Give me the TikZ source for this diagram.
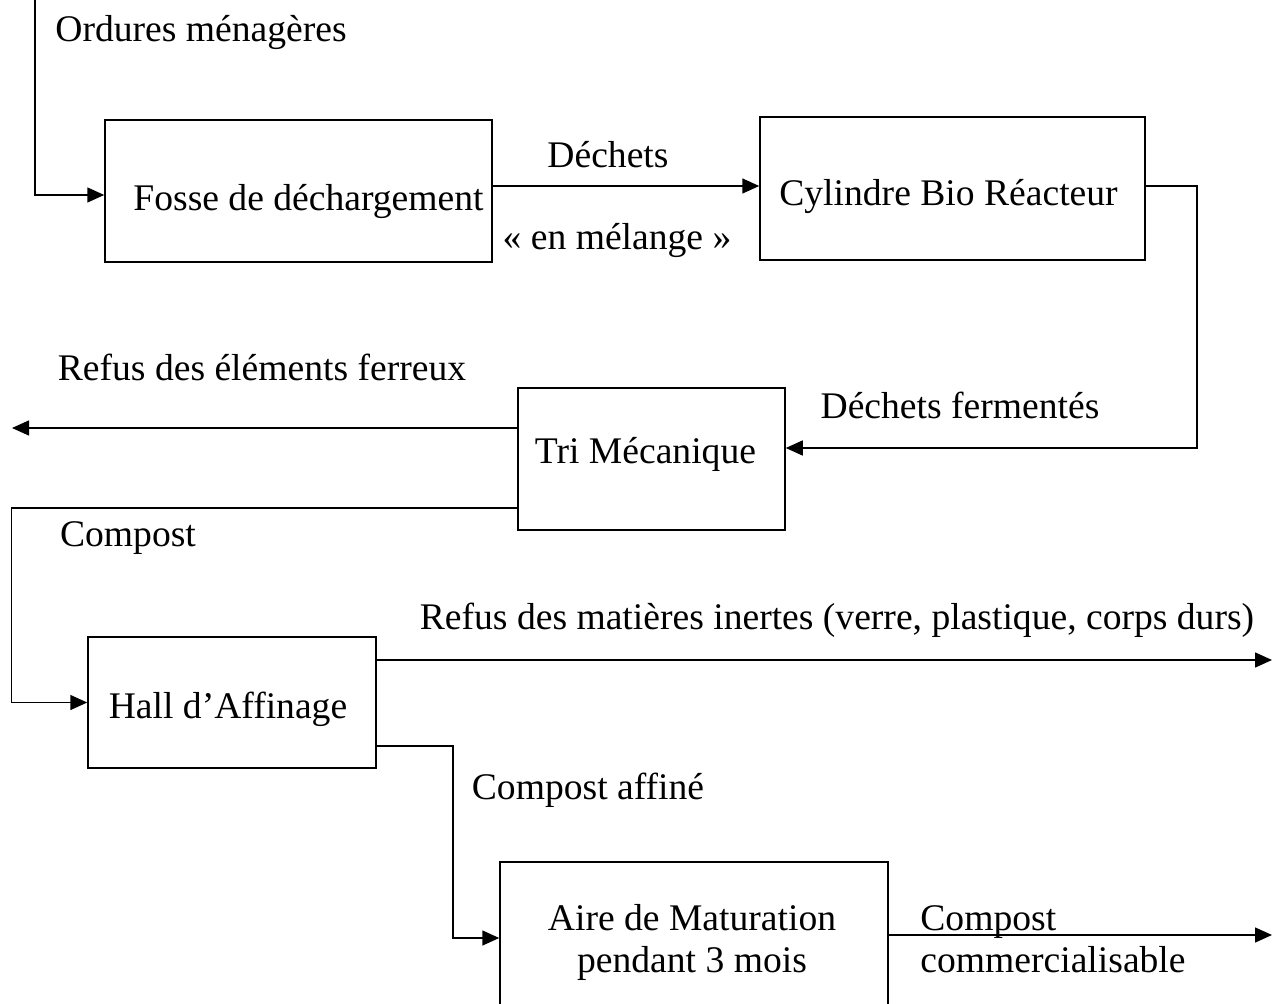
\documentclass[tikz,border=0pt]{standalone}
\usepackage{fontspec}
\setmainfont{Liberation Serif}
\usetikzlibrary{arrows.meta,calc}
\newcommand\lowtxt[2]{\raisebox{-#1}[\height][\depth]{#2}}
\begin{document}
\begin{tikzpicture}[x=0.5pt,y=0.5pt,
  font=\fontsize{18.8}{21}\selectfont,
  box/.style={draw,line width=0.75pt,inner sep=0pt,align=center},
  lbl/.style={inner sep=0pt,align=center},
  conn/.style={line width=0.75pt},
  arr/.style={conn,-{Triangle[length=8.5pt,width=7.5pt]}}]
\useasboundingbox (0,0) rectangle (1279,1003);
\clip (0,0) rectangle (1279,1003);
% boxes
\node[box,minimum width=193.5pt,minimum height=71pt] (b1) at (298.5,812) {\lowtxt{5pt}{\hspace*{10pt}Fosse de déchargement}};
\node[box,minimum width=192.5pt,minimum height=71.5pt] (b2) at (952.5,814.5) {\lowtxt{4pt}{Cylindre Bio Réacteur\hspace*{4pt}}};
\node[box,minimum width=133.5pt,minimum height=71pt] (b3) at (651.5,544) {\lowtxt{-2.5pt}{Tri Mécanique\hspace*{6pt}}};
\node[box,minimum width=144pt,minimum height=65.5pt] (b4) at (232,300.5) {\lowtxt{3.5pt}{Hall d’Affinage\hspace*{4pt}}};
\node[box,minimum width=194pt,minimum height=76pt] (b5) at (694,65) {\lowtxt{2.5pt}{\begin{tabular}{@{}c@{}}Aire de Maturation\\pendant 3 mois\end{tabular}}\hspace*{2pt}};
% free ends
\coordinate (in) at (35,1003);
\coordinate (o1) at (12,575);
\coordinate (o2) at (1272,343);
\coordinate (o3) at (1272,68);
\coordinate (p12) at ($(b1.east)+(0,5)$);
% connectors
\draw[arr] (in) |- ($(b1.west)+(0,-4)$);
\draw[arr] (p12) -- (p12 -| b2.west);
\draw[arr] ($(b2.east)+(0,2.5)$) -- ++(51,0) |- ($(b3.east)+(0,11)$);
\draw[arr] ($(b3.west)+(0,31)$) -- (o1);
\draw[arr] ($(b3.west)+(0,-49)$) -- ++(-506,0) |- (b4.west);
\draw[arr] ($(b4.east)+(0,42.5)$) -- (o2);
\draw[arr] ($(b4.east)+(0,-43.5)$) -- ++(76,0) |- (b5.west);
\draw[arr] ($(b5.east)+(0,3)$) -- (o3);
% labels
\node[lbl,anchor=west] (l1) at (55,971) {Ordures ménagères};
\node[lbl] (l2) at (608,848) {Déchets};
\node[lbl] (l3) at (617,763) {«~en mélange~»};
\node[lbl] (l4) at (960,598) {Déchets fermentés};
\node[lbl] (l5) at (262,636) {Refus des éléments ferreux};
\node[lbl] (l6) at (128,465) {Compost};
\node[lbl] (l7) at (837,383) {Refus des matières inertes (verre, plastique, corps durs)};
\node[lbl] (l8) at (588,213) {Compost affiné};
\node[lbl,anchor=west,align=left] (l9) at (920,64) {Compost\\commercialisable};
\end{tikzpicture}
\end{document}
